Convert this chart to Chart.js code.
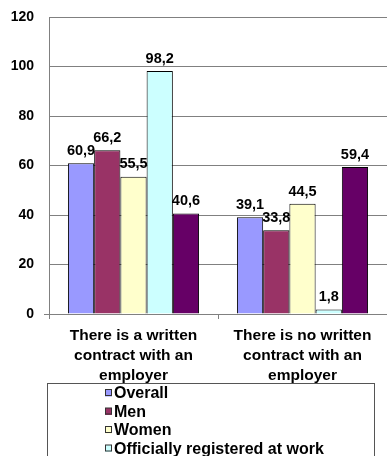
<!DOCTYPE html>
<html>
<head>
<meta charset="utf-8">
<script src="https://cdn.jsdelivr.net/npm/chart.js@4"></script>
<style>
  html, body { margin: 0; padding: 0; background: #fff; overflow: hidden; }
  #wrap { width: 387px; height: 456px; }
</style>
</head>
<body>
<div id="wrap"><canvas id="barChart"></canvas></div>
<script>
// values
var categories = [
    ['There is a written', 'contract with an', 'employer'],
    ['There is no written', 'contract with an', 'employer']
];
var seriesNames = ['Overall', 'Men', 'Women', 'Officially registered at work', 'Not officially registered at work'];
var overall = [60.9, 39.1];
var men = [66.2, 33.8];
var women = [55.5, 44.5];
var registered = [98.2, 1.8];
var notRegistered = [40.6, 59.4];
var yTicks = [0, 20, 40, 60, 80, 100, 120];

var colors = ['#9999FF', '#993366', '#FFFFCC', '#CCFFFF', '#660066'];
var seriesData = [overall, men, women, registered, notRegistered];

var ctx = document.getElementById('barChart').getContext('2d');

// value labels, drawn before the bars so bars cover them like in the original
var valueLabels = {
    id: 'valueLabels',
    beforeDatasetsDraw: function(chart) {
        var c = chart.ctx;
        c.save();
        c.font = 'bold 14.5px "Liberation Sans", Arial, sans-serif';
        c.fillStyle = '#000';
        c.textAlign = 'center';
        c.textBaseline = 'bottom';
        chart.data.datasets.forEach(function(ds, i) {
            chart.getDatasetMeta(i).data.forEach(function(bar, j) {
                c.fillText(ds.data[j].toFixed(1).replace('.', ','), bar.x, bar.y - 5);
            });
        });
        c.restore();
    }
};

// boxed legend under the axis labels
var boxLegend = {
    id: 'boxLegend',
    afterDraw: function(chart) {
        var c = chart.ctx;
        c.save();
        // small tick left of the zero line
        var y0 = Math.round(chart.scales.y.getPixelForValue(0)) + 0.5;
        c.strokeStyle = '#808080';
        c.beginPath();
        c.moveTo(chart.chartArea.left - 5, y0);
        c.lineTo(chart.chartArea.left, y0);
        c.stroke();

        c.strokeStyle = '#555';
        c.lineWidth = 1;
        c.strokeRect(47.5, 383.5, 327, 90);
        c.font = 'bold 16px "Liberation Sans", Arial, sans-serif';
        c.textBaseline = 'middle';
        c.textAlign = 'left';
        chart.data.datasets.forEach(function(ds, i) {
            var y = 393 + i * 18.5;
            c.fillStyle = ds.backgroundColor;
            c.fillRect(105, y - 3.5, 7, 7);
            c.strokeStyle = '#333';
            c.strokeRect(105.5, y - 3.5, 6, 6);
            c.fillStyle = '#000';
            c.fillText(ds.label, 114, y + 1);
        });
        c.restore();
    }
};

new Chart(ctx, {
    type: 'bar',
    data: {
        labels: categories,
        datasets: seriesNames.map(function(name, i) {
            return {
                label: name,
                data: seriesData[i],
                backgroundColor: colors[i],
                borderColor: '#000',
                borderWidth: 1,
                barPercentage: 1,
                categoryPercentage: 0.776
            };
        })
    },
    options: {
        responsive: true,
        maintainAspectRatio: false,
        animation: false,
        layout: { padding: { top: 17, right: 0, left: 0, bottom: 0 } },
        plugins: {
            legend: { display: false },
            tooltip: { enabled: false }
        },
        scales: {
            x: {
                grid: { drawOnChartArea: false, drawTicks: true, tickLength: 5, color: '#808080', offset: true },
                border: { color: '#808080' },
                ticks: {
                    color: '#000',
                    padding: 7,
                    maxRotation: 0,
                    autoSkip: false,
                    font: { family: '"Liberation Sans", Arial, sans-serif', size: 15.5, weight: 'bold', lineHeight: 1.29 }
                },
                afterFit: function(scale) { scale.height = 142; }
            },
            y: {
                min: 0,
                max: 120,
                afterBuildTicks: function(scale) {
                    scale.ticks = yTicks.map(function(v) { return { value: v }; });
                },
                grid: { color: '#808080', drawTicks: false },
                border: { color: '#808080' },
                ticks: {
                    color: '#000',
                    padding: 15,
                    font: { family: '"Liberation Sans", Arial, sans-serif', size: 14, weight: 'bold' }
                },
                afterFit: function(scale) {
                    scale.width = 49;
                    scale.paddingTop = 0;
                    scale.paddingBottom = 0;
                }
            }
        }
    },
    plugins: [valueLabels, boxLegend]
});
</script>
</body>
</html>
